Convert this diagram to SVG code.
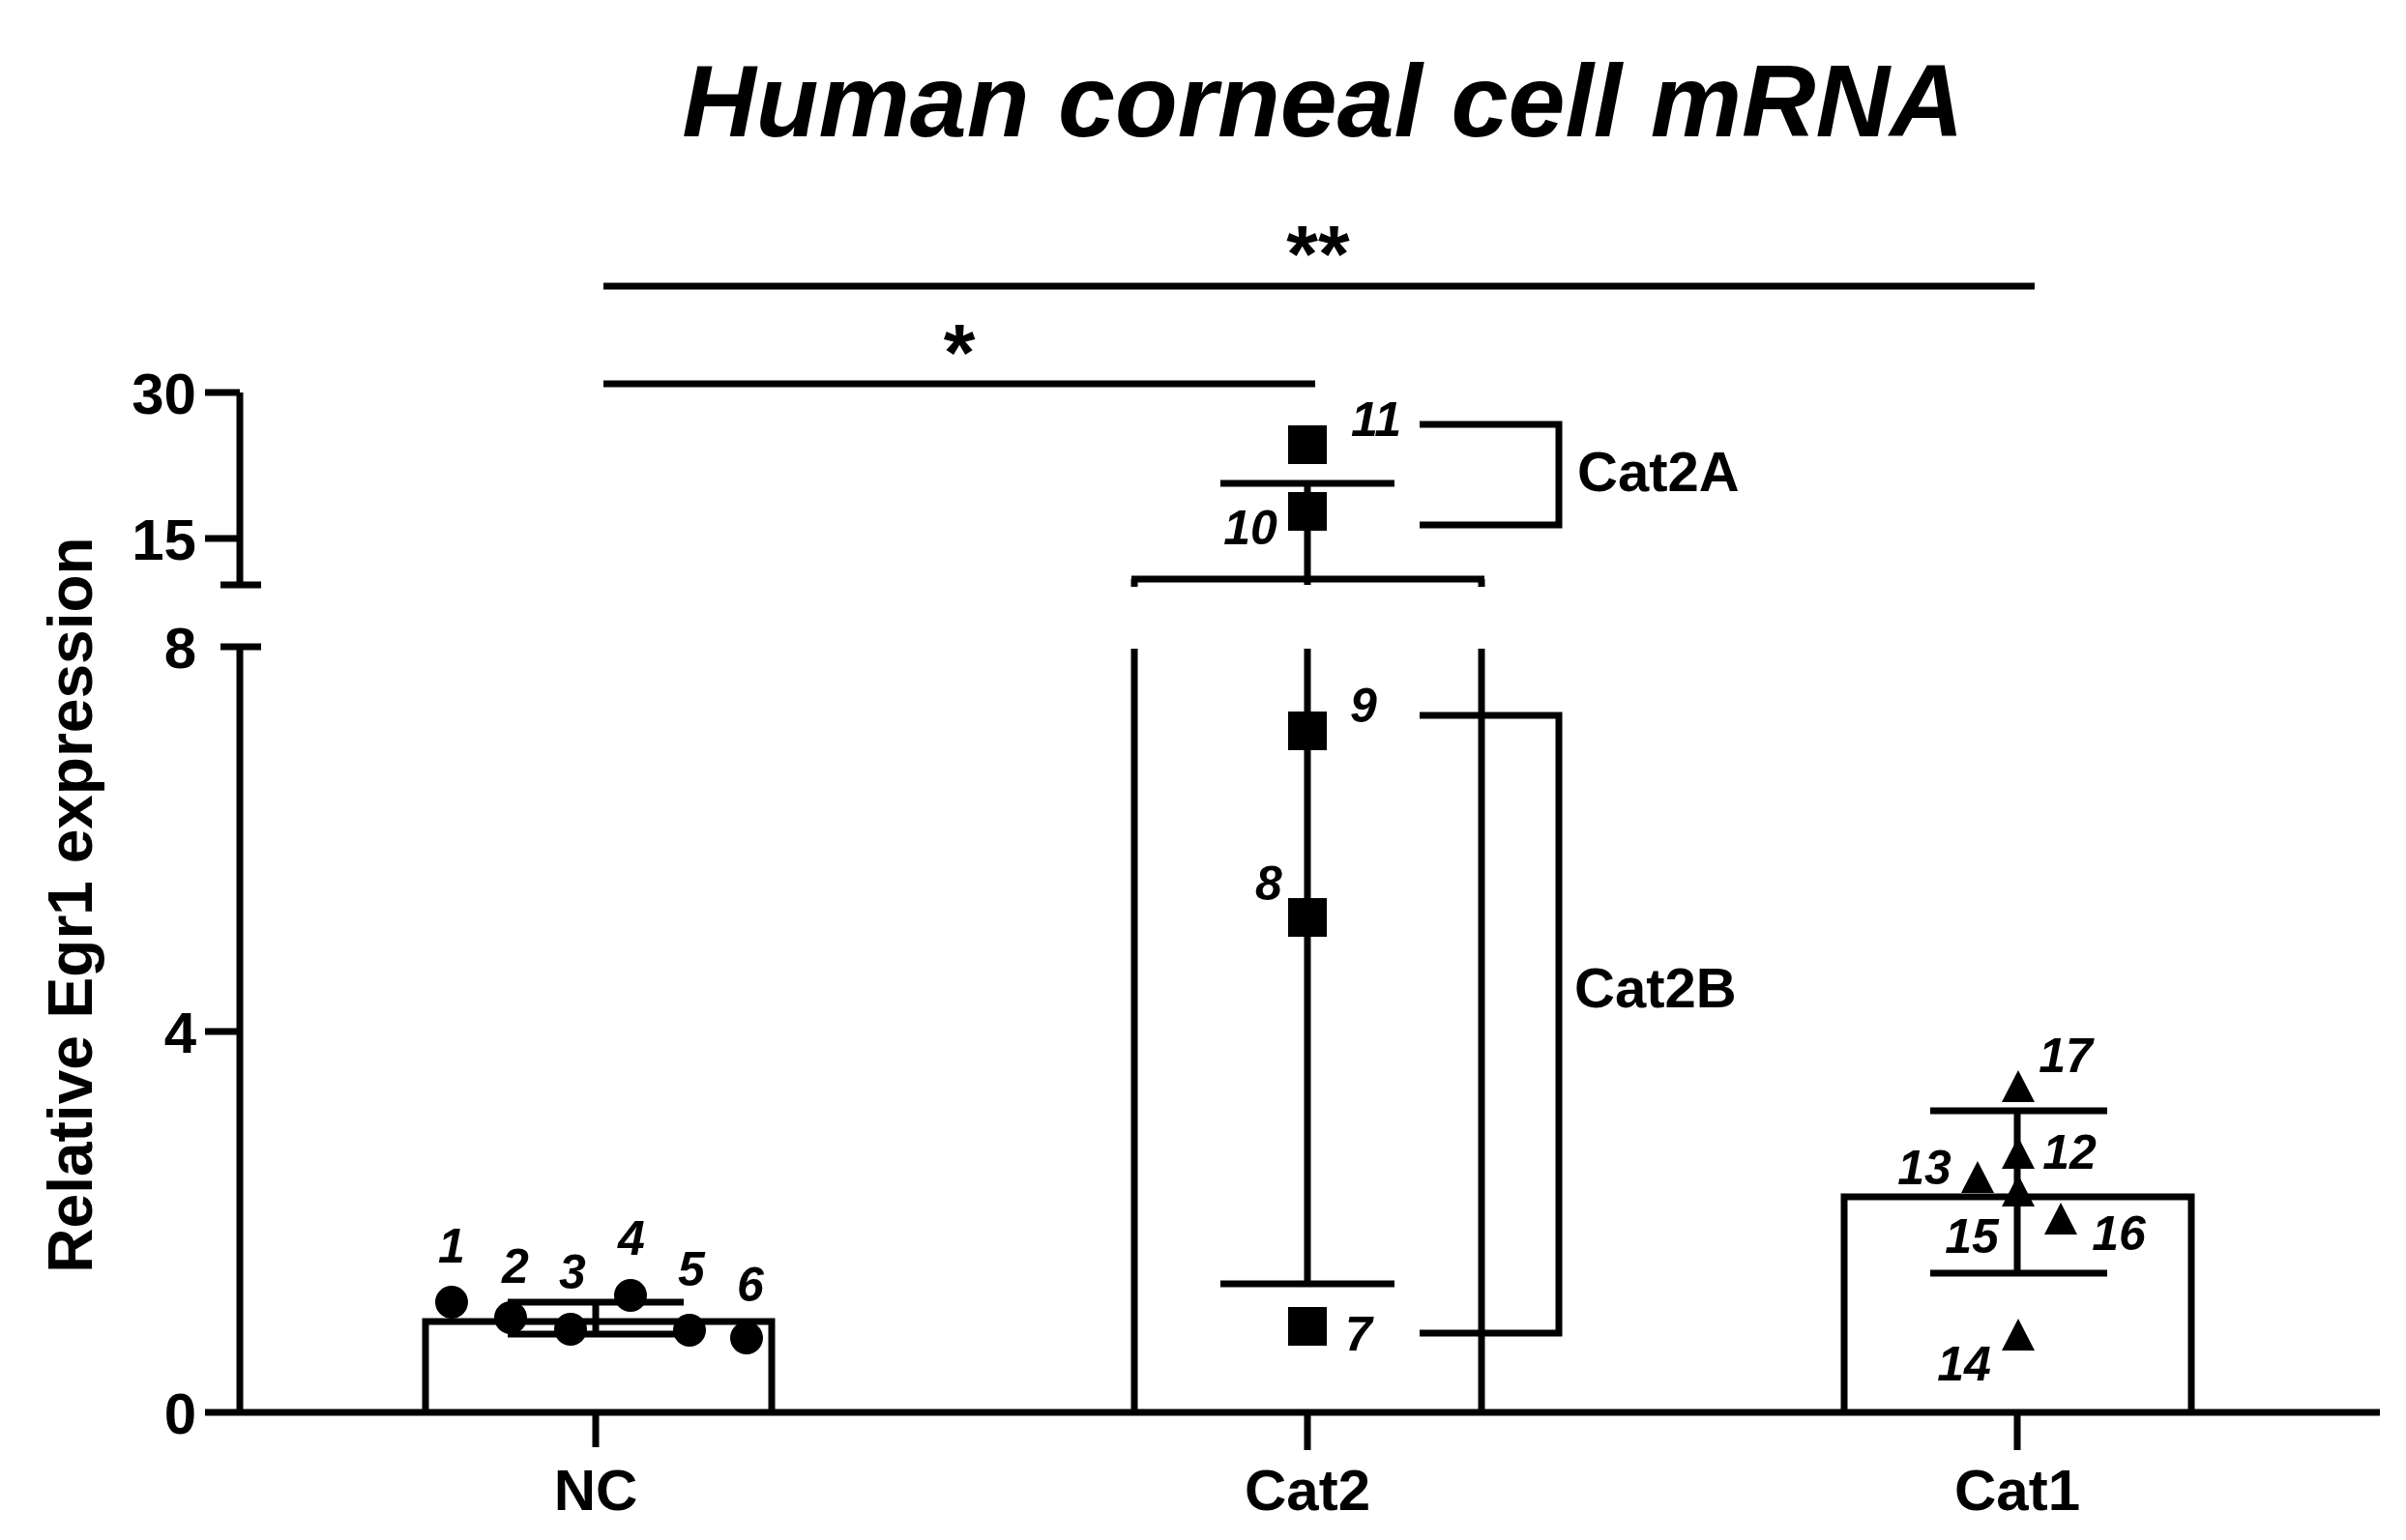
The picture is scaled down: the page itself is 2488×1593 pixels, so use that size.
<svg xmlns="http://www.w3.org/2000/svg" width="2488" height="1593" viewBox="0 0 2488 1593">
<style>
.l{stroke:#000;stroke-width:7;fill:none;stroke-linecap:butt}
.t{font-family:"Liberation Sans",Arial,sans-serif;font-weight:bold;fill:#000}
.n{font-family:"Liberation Sans",Arial,sans-serif;font-weight:bold;font-style:italic;fill:#000;font-size:50px;text-anchor:middle}
</style>
<rect width="2488" height="1593" fill="#fff"/>
<text class="t" x="1368" y="141" font-size="106" font-style="italic" text-anchor="middle">Human corneal cell mRNA</text>
<g id="axes">
<path class="l" d="M248 406V605M228 605H270M228 669H270M248 669V1461M212 406H248M212 557H248M212 1067H248M212 1461H2461M616 1461V1497M1352 1461V1500M2086 1461V1500"/>
<text class="t" font-size="60" text-anchor="end" x="203" y="428">30</text>
<text class="t" font-size="60" text-anchor="end" x="203" y="579">15</text>
<text class="t" font-size="60" text-anchor="end" x="203" y="691">8</text>
<text class="t" font-size="60" text-anchor="end" x="203" y="1089">4</text>
<text class="t" font-size="60" text-anchor="end" x="203" y="1483">0</text>
<text class="t" font-size="64" text-anchor="middle" transform="translate(95,936) rotate(-90)">Relative Egr1 expression</text>
<text class="t" font-size="60" text-anchor="middle" x="616" y="1562">NC</text>
<text class="t" font-size="60" text-anchor="middle" x="1352" y="1562">Cat2</text>
<text class="t" font-size="60" text-anchor="middle" x="2086" y="1562">Cat1</text>
</g>
<g id="connectors">
<path class="l" d="M624 296H2104M624 397H1360"/>
<text class="t" font-size="84" text-anchor="middle" x="1363" y="292">**</text>
<text class="t" font-size="84" text-anchor="middle" x="992" y="394">*</text>
<path class="l" d="M1468 439H1612V543H1468M1468 740H1612V1379H1468"/>
<text class="t" font-size="58" x="1631" y="508">Cat2A</text>
<text class="t" font-size="58" x="1628" y="1042">Cat2B</text>
</g>
<g id="nc">
<path class="l" d="M440 1461V1367H798V1461M525 1347H707M525 1380H707M616 1347V1380"/>
<circle cx="467" cy="1347" r="17"/><circle cx="528" cy="1363" r="17"/><circle cx="590" cy="1375" r="17"/>
<circle cx="652" cy="1340" r="17"/><circle cx="713" cy="1376" r="17"/><circle cx="772" cy="1384" r="17"/>
<text class="n" x="467" y="1306">1</text><text class="n" x="533" y="1327">2</text><text class="n" x="592" y="1333">3</text>
<text class="n" x="653" y="1298">4</text><text class="n" x="715" y="1330">5</text><text class="n" x="776" y="1346">6</text>
</g>
<g id="cat2">
<path class="l" d="M1173 1461V671M1532 1461V671M1170 599H1535M1173 599V607M1532 599V607M1262 500H1442M1352 500V605M1352 671V1328M1262 1328H1442"/>
<rect x="1332" y="440" width="40" height="40"/><rect x="1332" y="509" width="40" height="40"/>
<rect x="1332" y="736" width="40" height="40"/><rect x="1332" y="929" width="40" height="40"/>
<rect x="1332" y="1352" width="40" height="40"/>
<text class="n" x="1423" y="451">11</text><text class="n" x="1293" y="563">10</text>
<text class="n" x="1410" y="747">9</text><text class="n" x="1312" y="931">8</text><text class="n" x="1405" y="1397">7</text>
</g>
<g id="cat1">
<path class="l" d="M1907 1461V1238H2266V1461M1996 1149H2179M1996 1317H2179M2086 1149V1317"/>
<g fill="#000">
<path d="M2087 1107l17 33h-34z"/><path d="M2087 1176l17 33h-34z"/><path d="M2045 1201l17 33h-34z"/>
<path d="M2087 1215l17 33h-34z"/><path d="M2131 1244l17 33h-34z"/><path d="M2087 1364l17 33h-34z"/>
</g>
<text class="n" x="2136" y="1109">17</text><text class="n" x="2140" y="1209">12</text><text class="n" x="1990" y="1225">13</text>
<text class="n" x="2039" y="1296">15</text><text class="n" x="2191" y="1293">16</text><text class="n" x="2031" y="1428">14</text>
</g>
</svg>
